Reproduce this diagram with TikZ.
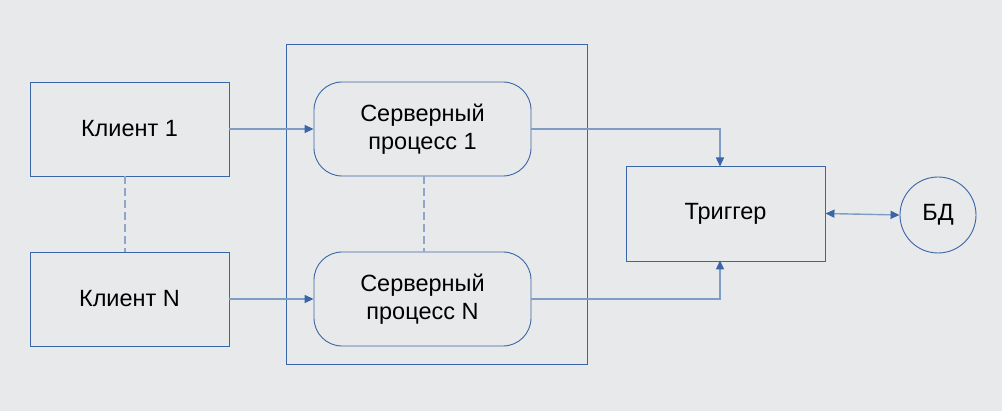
\documentclass[tikz,border=0pt]{standalone}
\usepackage{fontspec}
\setmainfont{Liberation Sans}
\usetikzlibrary{arrows.meta}
\definecolor{bg}{HTML}{E8E9EA}
\definecolor{frame}{HTML}{3A66A8}
\definecolor{conn}{HTML}{7F9CC4}
\definecolor{dashc}{HTML}{8EA6C8}
\tikzset{
  box/.style={draw=frame, line width=0.9pt, minimum width=199pt, minimum height=94pt, inner sep=0pt, font=\fontsize{23.5}{28}\selectfont, align=center},
  srv/.style={box, rounded corners=28pt, minimum width=217pt},
  conline/.style={draw=conn, line width=1.4pt},
  tipshape/.tip={Triangle[length=9pt,width=8pt,fill=frame,color=frame]},
  tip/.style={-tipshape},
  dashline/.style={draw=dashc, line width=1.8pt, dash pattern=on 8pt off 4pt}
}
\begin{document}
\begin{tikzpicture}[x=1pt,y=-1pt]
\fill[bg] (0,0) rectangle (1002,411);
\useasboundingbox (0,0) rectangle (1002,411);
\node[draw=frame, line width=0.9pt, minimum width=301pt, minimum height=320pt, inner sep=0pt] (cont) at (436.5,204) {};
\node[box] (c1) at (129.5,129) {Клиент 1};
\node[box] (cn) at (129.5,299) {Клиент N};
\node[srv] (s1) at (422.5,129) {Серверный\\процесс 1};
\node[srv] (sn) at (422.5,299) {Серверный\\процесс N};
\node[box, minimum height=95pt] (tr) at (725.5,213.5) {Триггер};
\node[draw=frame, line width=0.9pt, circle, minimum size=76pt, inner sep=0pt, font=\fontsize{23.5}{28}\selectfont] (db) at (938,215) {БД};
\coordinate (t1) at (720,166.5);
\coordinate (t2) at (720,260.5);
\draw[dashline] (c1.south -| 125,0) -- (cn.north -| 125,0);
\draw[dashline] (s1.south -| 424,0) -- (sn.north -| 424,0);
\draw[conline, tip] (c1.east) -- (s1.west);
\draw[conline, tip] (cn.east) -- (sn.west);
\draw[conline, tip] (s1.east) -| (t1);
\draw[conline, tip] (sn.east) -| (t2);
\draw[conline, tipshape-tipshape] (tr.east) -- (db.west);
\end{tikzpicture}
\end{document}
